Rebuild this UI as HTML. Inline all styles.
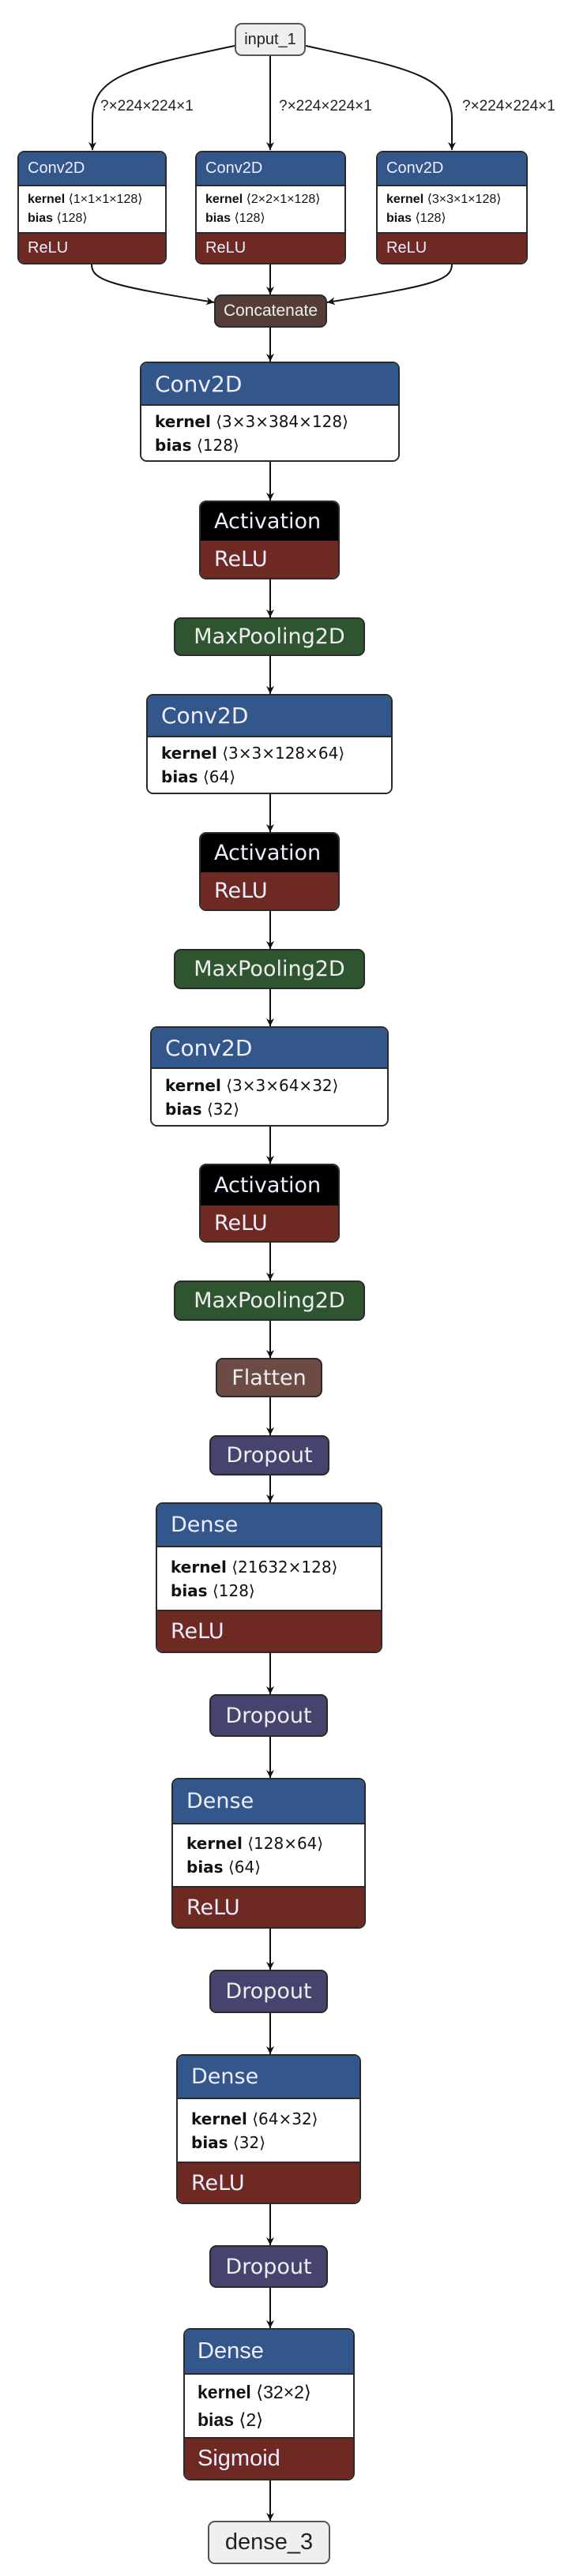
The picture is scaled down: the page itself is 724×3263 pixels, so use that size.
<!DOCTYPE html>
<html><head><meta charset="utf-8"><style>
html,body{margin:0;padding:0;background:#fff;}
body{width:724px;height:3263px;position:relative;overflow:hidden;font-family:"DejaVu Sans",sans-serif;}
.n{position:absolute;box-sizing:border-box;border:2px solid #2a2a2a;border-radius:9px;overflow:hidden;display:flex;flex-direction:column;}
.r{box-sizing:border-box;display:flex;align-items:center;color:#eef;white-space:nowrap;}
.b{background:#33578a;}
.red{background:#6e2a22;}
.blk{background:#000;}
.w{background:#fff;color:#111;flex-direction:column;align-items:flex-start;justify-content:center;border-top:2px solid #2a2a2a;border-bottom:2px solid #2a2a2a;}
.w div{line-height:1.5;}
.w b{font-weight:bold;}
.s{justify-content:center;color:#eee;}
svg{position:absolute;left:0;top:0;}
.lib{font-family:"Liberation Sans",sans-serif;}
</style></head><body>
<svg width="724" height="3263">
<defs><marker id="a" markerWidth="12" markerHeight="12" refX="10" refY="6" orient="auto" markerUnits="userSpaceOnUse"><path d="M0,1 L10,6 L0,11 L3,6 Z" fill="#111"/></marker></defs>
<g stroke="#111" stroke-width="2" fill="none" marker-end="url(#a)">
<path d="M297,58 C170,85 117,95 117,150 L117,190"/>
<line x1="342" y1="71" x2="342" y2="190"/>
<path d="M387,58 C510,85 572,95 572,150 L572,190"/>
<path d="M116,335 C116,355 140,362 271,383"/>
<line x1="342" y1="335" x2="342" y2="373"/>
<path d="M572,335 C572,355 548,362 414,383"/>
<line x1="342" y1="415" x2="342" y2="458"/>
<line x1="342" y1="585" x2="342" y2="634"/>
<line x1="342" y1="734" x2="342" y2="782"/>
<line x1="342" y1="831" x2="342" y2="879"/>
<line x1="342" y1="1006" x2="342" y2="1054"/>
<line x1="342" y1="1154" x2="342" y2="1202"/>
<line x1="342" y1="1253" x2="342" y2="1300"/>
<line x1="342" y1="1427" x2="342" y2="1474"/>
<line x1="342" y1="1574" x2="342" y2="1622"/>
<line x1="342" y1="1673" x2="342" y2="1720"/>
<line x1="342" y1="1770" x2="342" y2="1818"/>
<line x1="342" y1="1869" x2="342" y2="1903"/>
<line x1="342" y1="2094" x2="342" y2="2146"/>
<line x1="342" y1="2200" x2="342" y2="2252"/>
<line x1="342" y1="2443" x2="342" y2="2495"/>
<line x1="342" y1="2550" x2="342" y2="2602"/>
<line x1="342" y1="2792" x2="342" y2="2844"/>
<line x1="342" y1="2898" x2="342" y2="2949"/>
<line x1="342" y1="3142" x2="342" y2="3193"/>
</g>
<g font-family="Liberation Sans, sans-serif" font-size="19" fill="#222">
<text x="127" y="140">?×224×224×1</text>
<text x="353" y="140">?×224×224×1</text>
<text x="585" y="140">?×224×224×1</text>
</g>
</svg>

<div class="n lib" style="left:297px;top:29px;width:90px;height:42px;background:#efefef;border-color:#555;"><div class="r s" style="height:100%;color:#222;font-size:20px;">input_1</div></div>

<div class="n lib" style="left:22px;top:191px;width:189px;height:144px;"><div class="r b" style="height:41px;padding-left:11px;font-size:20px;">Conv2D</div><div class="r w" style="height:62px;padding-left:11px;font-size:16px;"><div><b>kernel</b> ⟨1×1×1×128⟩</div><div><b>bias</b> ⟨128⟩</div></div><div class="r red" style="flex:1;padding-left:11px;font-size:20px;">ReLU</div></div>
<div class="n lib" style="left:247px;top:191px;width:191px;height:144px;"><div class="r b" style="height:41px;padding-left:11px;font-size:20px;">Conv2D</div><div class="r w" style="height:62px;padding-left:11px;font-size:16px;"><div><b>kernel</b> ⟨2×2×1×128⟩</div><div><b>bias</b> ⟨128⟩</div></div><div class="r red" style="flex:1;padding-left:11px;font-size:20px;">ReLU</div></div>
<div class="n lib" style="left:476px;top:191px;width:192px;height:144px;"><div class="r b" style="height:41px;padding-left:11px;font-size:20px;">Conv2D</div><div class="r w" style="height:62px;padding-left:11px;font-size:16px;"><div><b>kernel</b> ⟨3×3×1×128⟩</div><div><b>bias</b> ⟨128⟩</div></div><div class="r red" style="flex:1;padding-left:11px;font-size:20px;">ReLU</div></div>

<div class="n lib" style="left:271px;top:373px;width:143px;height:42px;background:#553e37;"><div class="r s" style="height:100%;font-size:21px;">Concatenate</div></div>

<div class="n" style="left:177px;top:458px;width:329px;height:127px;"><div class="r b" style="height:52px;padding-left:17px;font-size:28px;">Conv2D</div><div class="r w" style="flex:1;padding-left:17px;font-size:20px;border-bottom:none;"><div><b>kernel</b> ⟨3×3×384×128⟩</div><div><b>bias</b> ⟨128⟩</div></div></div>
<div class="n" style="left:252px;top:634px;width:178px;height:100px;"><div class="r blk" style="height:49px;padding-left:17px;font-size:27px;">Activation</div><div class="r red" style="flex:1;padding-left:17px;font-size:27px;">ReLU</div></div>
<div class="n" style="left:220px;top:782px;width:242px;height:49px;background:#2f5530;"><div class="r s" style="height:100%;font-size:27px;">MaxPooling2D</div></div>

<div class="n" style="left:185px;top:879px;width:312px;height:127px;"><div class="r b" style="height:51px;padding-left:17px;font-size:28px;">Conv2D</div><div class="r w" style="flex:1;padding-left:17px;font-size:20px;border-bottom:none;"><div><b>kernel</b> ⟨3×3×128×64⟩</div><div><b>bias</b> ⟨64⟩</div></div></div>
<div class="n" style="left:252px;top:1054px;width:178px;height:100px;"><div class="r blk" style="height:49px;padding-left:17px;font-size:27px;">Activation</div><div class="r red" style="flex:1;padding-left:17px;font-size:27px;">ReLU</div></div>
<div class="n" style="left:220px;top:1202px;width:242px;height:51px;background:#2f5530;"><div class="r s" style="height:100%;font-size:27px;">MaxPooling2D</div></div>

<div class="n" style="left:190px;top:1300px;width:302px;height:127px;"><div class="r b" style="height:50px;padding-left:17px;font-size:28px;">Conv2D</div><div class="r w" style="flex:1;padding-left:17px;font-size:20px;border-bottom:none;"><div><b>kernel</b> ⟨3×3×64×32⟩</div><div><b>bias</b> ⟨32⟩</div></div></div>
<div class="n" style="left:252px;top:1474px;width:178px;height:100px;"><div class="r blk" style="height:51px;padding-left:17px;font-size:27px;">Activation</div><div class="r red" style="flex:1;padding-left:17px;font-size:27px;">ReLU</div></div>
<div class="n" style="left:220px;top:1622px;width:242px;height:51px;background:#2f5530;"><div class="r s" style="height:100%;font-size:27px;">MaxPooling2D</div></div>

<div class="n" style="left:273px;top:1720px;width:135px;height:50px;background:#6b4b43;"><div class="r s" style="height:100%;font-size:27px;">Flatten</div></div>
<div class="n" style="left:265px;top:1818px;width:152px;height:51px;background:#45446f;"><div class="r s" style="height:100%;font-size:27px;">Dropout</div></div>

<div class="n" style="left:197px;top:1903px;width:287px;height:191px;"><div class="r b" style="height:53px;padding-left:17px;font-size:27px;">Dense</div><div class="r w" style="height:83px;padding-left:17px;font-size:20px;"><div><b>kernel</b> ⟨21632×128⟩</div><div><b>bias</b> ⟨128⟩</div></div><div class="r red" style="flex:1;padding-left:17px;font-size:27px;">ReLU</div></div>
<div class="n" style="left:265px;top:2146px;width:150px;height:54px;background:#45446f;"><div class="r s" style="height:100%;font-size:27px;">Dropout</div></div>

<div class="n" style="left:217px;top:2252px;width:246px;height:191px;"><div class="r b" style="height:55px;padding-left:17px;font-size:27px;">Dense</div><div class="r w" style="height:82px;padding-left:17px;font-size:20px;"><div><b>kernel</b> ⟨128×64⟩</div><div><b>bias</b> ⟨64⟩</div></div><div class="r red" style="flex:1;padding-left:17px;font-size:27px;">ReLU</div></div>
<div class="n" style="left:265px;top:2495px;width:150px;height:55px;background:#45446f;"><div class="r s" style="height:100%;font-size:27px;">Dropout</div></div>

<div class="n" style="left:223px;top:2602px;width:234px;height:190px;"><div class="r b" style="height:53px;padding-left:17px;font-size:27px;">Dense</div><div class="r w" style="height:83px;padding-left:17px;font-size:20px;"><div><b>kernel</b> ⟨64×32⟩</div><div><b>bias</b> ⟨32⟩</div></div><div class="r red" style="flex:1;padding-left:17px;font-size:27px;">ReLU</div></div>
<div class="n" style="left:265px;top:2844px;width:150px;height:54px;background:#45446f;"><div class="r s" style="height:100%;font-size:27px;">Dropout</div></div>

<div class="n lib" style="left:232px;top:2949px;width:217px;height:193px;"><div class="r b" style="height:55px;padding-left:16px;font-size:29px;">Dense</div><div class="r w" style="height:83px;padding-left:16px;font-size:23px;"><div><b>kernel</b> ⟨32×2⟩</div><div><b>bias</b> ⟨2⟩</div></div><div class="r red" style="flex:1;padding-left:16px;font-size:29px;">Sigmoid</div></div>

<div class="n lib" style="left:263px;top:3193px;width:155px;height:55px;background:#efefef;border-color:#555;"><div class="r s" style="height:100%;color:#222;font-size:29px;">dense_3</div></div>
</body></html>
